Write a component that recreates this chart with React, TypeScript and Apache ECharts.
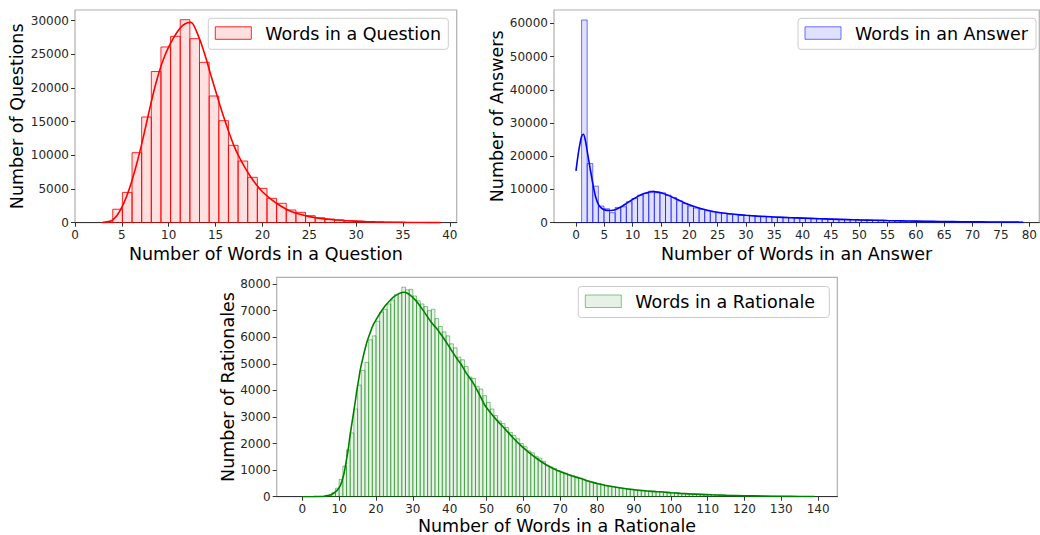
import React, { useEffect, useRef } from "react";
import * as echarts from "echarts";

// ---------- Questions ----------
const qBinStart = 3;
const qBinWidth = 36 / 35;
const qCounts = [
  80, 2000, 4500, 10400, 15700, 22450, 26100, 27680, 30150, 27330,
  23820, 18820, 15150, 11490, 9160, 6740, 5100, 3620, 2880, 1890,
  1540, 1040, 740, 550, 400, 300, 200, 150, 100, 80,
  60, 40, 30, 20, 10,
];
const qKde: [number, number][] = [
  [2.85, 0], [3.3, 80], [3.7, 200], [4, 400], [4.5, 1100], [5, 2300], [5.5, 3900], [6, 5900],
  [6.5, 8300], [7, 11000], [7.5, 14000], [8, 17100], [8.5, 20000], [9, 22500], [9.5, 24500],
  [10, 26100], [10.5, 27400], [11, 28500], [11.5, 29300], [12, 29700], [12.3, 29750],
  [12.6, 29500], [13, 28300], [13.5, 26500], [14, 24300], [14.5, 21900], [15, 19600],
  [15.5, 17300], [16, 15150], [16.5, 13150], [17, 11300], [17.5, 9800], [18, 8500],
  [18.5, 7350], [19, 6300], [19.5, 5400], [20, 4600], [21, 3400], [22, 2450], [23, 1700],
  [24, 1250], [25, 900], [26, 660], [27, 510], [28, 390], [29, 300], [30, 230], [31, 170],
  [32, 125], [33, 90], [34, 65], [35, 48], [36, 34], [37, 22], [38, 12], [39, 5],
];
const qXTicks = [0, 5, 10, 15, 20, 25, 30, 35, 40];
const qYTicks = [0, 5000, 10000, 15000, 20000, 25000, 30000];

// ---------- Answers ----------
const aBinStart = 0;
const aBinWidth = 79 / 80;
const aCounts = [
  30, 61000, 17800, 11000, 5000, 4200, 3000, 4600, 4800, 6300,
  7300, 8300, 8800, 9500, 9000, 9000, 8300, 7600, 6600, 5800,
  5000, 4400, 4000, 3600, 3300, 3000, 2800, 2600, 2450, 2300,
  2200, 2100, 2000, 1900, 1800, 1700, 1650, 1600, 1500, 1450,
  1400, 1300, 1250, 1200, 1150, 1100, 1050, 1000, 950, 900,
  850, 800, 760, 720, 680, 640, 600, 570, 540, 510,
  480, 450, 420, 400, 380, 360, 340, 320, 300, 280,
  265, 250, 235, 220, 205, 190, 180, 170, 160, 150,
];
const aKde: [number, number][] = [
  [0, 15600], [0.3, 19500], [0.6, 22800], [1.0, 26000], [1.3, 26600], [1.65, 24800],
  [2, 21300], [2.5, 16300], [3, 11500], [3.5, 7600], [4, 5400], [4.5, 4400], [5, 3900],
  [5.5, 3700], [6, 3650], [6.5, 3750], [7, 4000], [8, 4800], [9, 5900], [10, 7000],
  [11, 8000], [12, 8750], [13, 9250], [13.7, 9350], [14.5, 9200], [15, 9000], [16, 8400],
  [17, 7700], [18, 6900], [19, 6100], [20, 5400], [21, 4800], [22, 4300], [23, 3850],
  [24, 3450], [25, 3150], [26, 2900], [27, 2700], [28, 2520], [30, 2220], [32, 1980],
  [35, 1720], [38, 1500], [40, 1380], [43, 1200], [45, 1090], [48, 940], [50, 850],
  [53, 730], [55, 650], [58, 540], [60, 480], [63, 400], [65, 360], [68, 300], [70, 265],
  [73, 220], [75, 195], [78, 160], [78.9, 150],
];
const aXTicks = [0, 5, 10, 15, 20, 25, 30, 35, 40, 45, 50, 55, 60, 65, 70, 75, 80];
const aYTicks = [0, 10000, 20000, 30000, 40000, 50000, 60000];

// ---------- Rationales ----------
const rBinStart = 0;
const rBinWidth = 1;
const rCounts = [
  0, 0, 0, 0, 5, 10, 25, 60, 150, 320,
  650, 1150, 1760, 2400, 3300, 4200, 4750, 5050, 5900, 6050,
  6600, 6950, 7050, 7250, 7400, 7600, 7650, 7880, 7780, 7800,
  7550, 7370, 7250, 7150, 7000, 7050, 6700, 6400, 6200, 6050,
  5750, 5600, 5250, 5150, 4900, 4500, 4450, 4150, 4050, 3800,
  3550, 3300, 3050, 2850, 2750, 2600, 2420, 2300, 2180, 2000,
  1880, 1720, 1650, 1520, 1450, 1330, 1180, 1120, 1060, 980,
  930, 890, 830, 790, 740, 700, 660, 600, 560, 520,
  500, 470, 430, 400, 380, 350, 330, 310, 300, 280,
  265, 250, 240, 225, 215, 205, 195, 185, 175, 165,
  155, 145, 135, 125, 118, 110, 103, 96, 90, 84,
  78, 73, 68, 63, 58, 54, 50, 46, 43, 40,
  37, 34, 31, 29, 26, 24, 22, 20, 18, 16,
  15, 13, 12, 11, 10, 9, 8, 7, 6,
];
const rKde: [number, number][] = [
  [0, 0], [3, 2], [5, 8], [6, 20], [7, 45], [7.5, 60], [8, 90], [8.5, 130], [9.3, 220],
  [10, 340], [10.5, 480], [11.1, 750], [11.5, 1000], [12, 1400], [12.5, 1820], [12.9, 2250],
  [13.4, 2700], [13.9, 3150], [14.4, 3600], [14.8, 4000], [15.3, 4400], [15.7, 4750],
  [16.5, 5250], [17.5, 5800], [18.5, 6200], [19.3, 6480], [20, 6650], [21.1, 6900],
  [22.5, 7180], [23.8, 7380], [25, 7530], [26, 7620], [27, 7680], [27.7, 7690],
  [28.5, 7650], [29.5, 7550], [30.5, 7420], [31.5, 7260], [32.9, 6990], [34, 6760],
  [35, 6560], [36.3, 6350], [37.4, 6150], [38.5, 5930], [40, 5610], [41.9, 5210],
  [43, 5000], [44.5, 4650], [46.4, 4270], [48.2, 3800], [49.5, 3450], [50.8, 3200],
  [52.7, 2890], [55, 2550], [57.3, 2200], [59.5, 1900], [61.8, 1630], [64, 1400],
  [66.3, 1190], [68.5, 1030], [70.8, 900], [73, 790], [75.4, 690], [77.5, 590],
  [79.9, 500], [82, 430], [84.4, 376], [86.5, 325], [88.9, 280], [91, 245], [93.5, 215],
  [96, 190], [98, 175], [100, 150], [102.5, 125], [105, 105], [108, 88], [111, 72],
  [115, 55], [120, 37], [125, 24], [130, 15], [135, 9], [139, 5],
];
const rXTicks = [0, 10, 20, 30, 40, 50, 60, 70, 80, 90, 100, 110, 120, 130, 140];
const rYTicks = [0, 1000, 2000, 3000, 4000, 5000, 6000, 7000, 8000];

const FONT = "DejaVu Sans";

function binsOf(start: number, width: number, counts: number[]) {
  return counts.map((c, i) => [start + i * width, start + (i + 1) * width, c]);
}

function barRenderer(fill: string, stroke: string) {
  return (params: any, api: any) => {
    const x0 = api.value(0);
    const x1 = api.value(1);
    const y = api.value(2);
    const p0 = api.coord([x0, y]);
    const p1 = api.coord([x1, 0]);
    return {
      type: "rect",
      shape: { x: p0[0], y: p0[1], width: p1[0] - p0[0], height: p1[1] - p0[1] },
      style: { fill, stroke, lineWidth: 1 },
    };
  };
}

const plain = (v: number) => String(v);

function xAxisOf(gridIndex: number, min: number, max: number, ticks: number[]) {
  return {
    type: "value",
    gridIndex,
    min,
    max,
    axisLine: { show: true, onZero: false, lineStyle: { color: "#333333", width: 1 } },
    axisTick: { show: true, customValues: ticks, length: 4, lineStyle: { color: "#333333", width: 1 } },
    axisLabel: { customValues: ticks, formatter: plain, color: "#262626", fontSize: 12, fontFamily: FONT, margin: 6 },
    splitLine: { show: false },
  };
}

function yAxisOf(gridIndex: number, max: number, ticks: number[]) {
  return {
    type: "value",
    gridIndex,
    min: 0,
    max,
    position: "left",
    axisLine: { show: false, onZero: false },
    axisTick: { show: true, customValues: ticks, length: 4, lineStyle: { color: "#333333", width: 1 } },
    axisLabel: { customValues: ticks, formatter: plain, color: "#262626", fontSize: 12, fontFamily: FONT, margin: 6 },
    splitLine: { show: false },
  };
}

function legendOf(bx: number, by: number, bw: number, label: string, fill: string, stroke: string) {
  return {
    type: "group",
    children: [
      {
        type: "rect",
        shape: { x: bx, y: by, width: bw, height: 31, r: 3 },
        style: { fill: "rgba(255,255,255,0.85)", stroke: "#cccccc", lineWidth: 1 },
      },
      {
        type: "rect",
        shape: { x: bx + 7, y: by + 8.5, width: 36, height: 12.5 },
        style: { fill, stroke, lineWidth: 1 },
      },
      {
        type: "text",
        x: bx + 57,
        y: by + 15.5,
        style: {
          text: label,
          fontSize: 17.5,
          fontFamily: FONT,
          fill: "#000000",
          align: "left",
          verticalAlign: "middle",
          textAlign: "left",
          textVerticalAlign: "middle",
        },
      },
    ],
  };
}

function labelText(x: number, y: number, text: string, rotate: boolean) {
  return {
    type: "text",
    x,
    y,
    rotation: rotate ? Math.PI / 2 : 0,
    style: {
      text,
      fontSize: 17.5,
      fontFamily: FONT,
      fill: "#000000",
      align: "center",
      verticalAlign: "middle",
      textAlign: "center",
      textVerticalAlign: "middle",
    },
  };
}

export default function App() {
  const ref = useRef<HTMLDivElement>(null);
  useEffect(() => {
    if (!ref.current) return;
    const chart = echarts.init(ref.current, null, { renderer: "svg" });

    const qFill = "rgba(255,0,0,0.12)";
    const qStroke = "rgba(255,0,0,0.85)";
    const aFill = "rgba(0,0,255,0.12)";
    const aStroke = "rgba(0,0,255,0.55)";
    const rFill = "rgba(0,128,0,0.10)";
    const rStroke = "rgba(0,128,0,0.45)";

    const gridStyle = { show: true, borderColor: "#b0b0b0", borderWidth: 1.2, backgroundColor: "transparent" };

    chart.setOption({
      animation: false,
      backgroundColor: "#ffffff",
      grid: [
        { left: 75, top: 10, width: 381.7, height: 212.7, ...gridStyle },
        { left: 554, top: 10, width: 485.3, height: 212.7, ...gridStyle },
        { left: 276.7, top: 277.3, width: 560.6, height: 219.4, ...gridStyle },
      ],
      xAxis: [
        xAxisOf(0, 0, 40.73, qXTicks),
        xAxisOf(1, -3.88, 81.77, aXTicks),
        xAxisOf(2, -6.95, 145.2, rXTicks),
      ],
      yAxis: [
        yAxisOf(0, 31590, qYTicks),
        yAxisOf(1, 64000, aYTicks),
        yAxisOf(2, 8252, rYTicks),
      ],
      series: [
        {
          type: "custom",
          xAxisIndex: 0,
          yAxisIndex: 0,
          clip: true,
          encode: { x: [0, 1], y: 2 },
          data: binsOf(qBinStart, qBinWidth, qCounts),
          renderItem: barRenderer(qFill, qStroke),
          z: 2,
        },
        {
          type: "line",
          xAxisIndex: 0,
          yAxisIndex: 0,
          data: qKde,
          showSymbol: false,
          symbol: "none",
          smooth: 0.3,
          lineStyle: { color: "#ff0000", width: 1.6 },
          z: 3,
        },
        {
          type: "custom",
          xAxisIndex: 1,
          yAxisIndex: 1,
          clip: true,
          encode: { x: [0, 1], y: 2 },
          data: binsOf(aBinStart, aBinWidth, aCounts),
          renderItem: barRenderer(aFill, aStroke),
          z: 2,
        },
        {
          type: "line",
          xAxisIndex: 1,
          yAxisIndex: 1,
          data: aKde,
          showSymbol: false,
          symbol: "none",
          smooth: 0.3,
          lineStyle: { color: "#0000ff", width: 1.6 },
          z: 3,
        },
        {
          type: "custom",
          xAxisIndex: 2,
          yAxisIndex: 2,
          clip: true,
          encode: { x: [0, 1], y: 2 },
          data: binsOf(rBinStart, rBinWidth, rCounts),
          renderItem: barRenderer(rFill, rStroke),
          z: 2,
        },
        {
          type: "line",
          xAxisIndex: 2,
          yAxisIndex: 2,
          data: rKde,
          showSymbol: false,
          symbol: "none",
          smooth: 0.3,
          lineStyle: { color: "#008000", width: 1.6 },
          z: 3,
        },
      ],
      graphic: [
        legendOf(208.3, 18.3, 240, "Words in a Question", qFill, qStroke),
        legendOf(798, 18.3, 238, "Words in an Answer", aFill, aStroke),
        legendOf(578.3, 286.5, 251, "Words in a Rationale", rFill, rStroke),
        labelText(265.9, 253.5, "Number of Words in a Question", false),
        labelText(796.6, 253.5, "Number of Words in an Answer", false),
        labelText(557, 526, "Number of Words in a Rationale", false),
        labelText(17, 116.3, "Number of Questions", true),
        labelText(496.5, 116.3, "Number of Answers", true),
        labelText(227.5, 387, "Number of Rationales", true),
      ],
    });
    return () => chart.dispose();
  }, []);
  return (
    <div
      ref={ref}
      style={{ position: "fixed", left: 0, top: 0, width: 1040, height: 535, background: "#fff" }}
    />
  );
}
